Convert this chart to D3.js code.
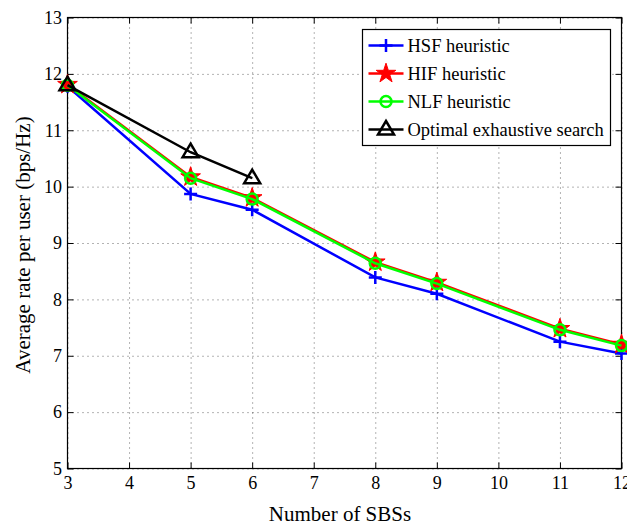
<!DOCTYPE html>
<html>
<head>
<meta charset="utf-8">
<script src="https://cdnjs.cloudflare.com/ajax/libs/d3/7.8.5/d3.min.js"></script>
<style>
  body { margin: 0; background: #fff; }
</style>
</head>
<body>
<div id="chart"></div>
<script>
// data
var sbs = [3, 5, 6, 8, 9, 11, 12];
var sbsOpt = [3, 5, 6];
var hsf = [11.78, 9.87, 9.59, 8.39, 8.10, 7.25, 7.04];
var hif = [11.81, 10.17, 9.80, 8.66, 8.30, 7.48, 7.20];
var nlf = [11.80, 10.15, 9.78, 8.64, 8.28, 7.46, 7.18];
var optimal = [11.80, 10.61, 10.15];
var xTicks = [3, 4, 5, 6, 7, 8, 9, 10, 11, 12];
var yTicks = [5, 6, 7, 8, 9, 10, 11, 12, 13];

var series = [
	{ name: "HSF heuristic", x: sbs, y: hsf, color: "#0000ff", marker: "plus" },
	{ name: "HIF heuristic", x: sbs, y: hif, color: "#ff0000", marker: "star" },
	{ name: "NLF heuristic", x: sbs, y: nlf, color: "#00ff00", marker: "circle" },
	{ name: "Optimal exhaustive search", x: sbsOpt, y: optimal, color: "#000000", marker: "triangle" }
];

var W = 627, H = 526;
var margin = { left: 67.5, right: 5.5, top: 17.5, bottom: 57.5 };
var w = W - margin.left - margin.right,
	h = H - margin.top - margin.bottom;
var font = "'Liberation Serif'";

var svg = d3.select("#chart").append("svg")
	.attr("width", W)
	.attr("height", H);

var g = svg.append("g")
	.attr("transform", "translate(" + margin.left + "," + margin.top + ")");

var x = d3.scaleLinear().domain([3, 12]).range([0, w]);
var y = d3.scaleLinear().domain([5, 13]).range([h, 0]);

// dotted grid
g.append("g")
	.attr("class", "grid")
	.attr("transform", "translate(0," + h + ")")
	.call(d3.axisBottom(x).tickValues(xTicks).tickSize(-h).tickFormat(""))
	.call(function (s) { s.select(".domain").remove(); });
g.append("g")
	.attr("class", "grid")
	.call(d3.axisLeft(y).tickValues(yTicks).tickSize(-w).tickFormat(""))
	.call(function (s) { s.select(".domain").remove(); });
g.selectAll(".grid line")
	.attr("stroke", "#000")
	.attr("stroke-width", 1)
	.attr("stroke-dasharray", "1,4")
	.attr("stroke-opacity", 0.6);

// axes with inward ticks (box on, like matlab)
var xAxis = g.append("g")
	.attr("transform", "translate(0," + h + ")")
	.call(d3.axisBottom(x).tickValues(xTicks).tickSizeInner(-6).tickSizeOuter(0).tickPadding(7.5));
var xTop = g.append("g")
	.call(d3.axisTop(x).tickValues(xTicks).tickSizeInner(-6).tickSizeOuter(0).tickFormat(""));
var yAxis = g.append("g")
	.call(d3.axisLeft(y).tickValues(yTicks).tickSizeInner(-6).tickSizeOuter(0).tickPadding(5.5));
var yRight = g.append("g")
	.attr("transform", "translate(" + w + ",0)")
	.call(d3.axisRight(y).tickValues(yTicks).tickSizeInner(-6).tickSizeOuter(0).tickFormat(""));

[xAxis, xTop, yAxis, yRight].forEach(function (a) {
	a.selectAll(".domain").remove();
	a.selectAll("line").attr("stroke", "#000");
	a.selectAll("text")
		.attr("fill", "#000")
		.style("font-family", font)
		.style("font-size", "18px");
});

g.append("rect")
	.attr("width", w)
	.attr("height", h)
	.attr("fill", "none")
	.attr("stroke", "#000")
	.attr("stroke-width", 1.2);

// markers
function drawMarker(sel, type, color) {
	if (type === "plus") {
		sel.append("path")
			.attr("d", "M-6.5,0H6.5M0,-6.5V6.5")
			.attr("stroke", color).attr("stroke-width", 2.5).attr("fill", "none");
	} else if (type === "star") {
		sel.append("path")
			.attr("d", d3.symbol().type(d3.symbolStar).size(120)())
			.attr("fill", color).attr("stroke", color).attr("stroke-width", 1);
	} else if (type === "circle") {
		sel.append("circle")
			.attr("r", 5.5)
			.attr("fill", "none").attr("stroke", color).attr("stroke-width", 2.5);
	} else if (type === "triangle") {
		sel.append("path")
			.attr("d", "M0,-8.5L8,5L-8,5Z")
			.attr("fill", "none").attr("stroke", color).attr("stroke-width", 2.5);
	}
}

var line = d3.line()
	.x(function (d) { return x(d[0]); })
	.y(function (d) { return y(d[1]); });

series.forEach(function (s) {
	var pts = s.x.map(function (v, i) { return [v, s.y[i]]; });
	g.append("path")
		.datum(pts)
		.attr("d", line)
		.attr("fill", "none")
		.attr("stroke", s.color)
		.attr("stroke-width", 2.5);
	g.selectAll(null)
		.data(pts)
		.enter()
		.append("g")
		.attr("transform", function (d) { return "translate(" + x(d[0]) + "," + y(d[1]) + ")"; })
		.each(function () { drawMarker(d3.select(this), s.marker, s.color); });
});

// legend
var leg = svg.append("g").attr("transform", "translate(362.5,29.5)");
leg.append("rect")
	.attr("width", 248)
	.attr("height", 116)
	.attr("fill", "#fff")
	.attr("stroke", "#000")
	.attr("stroke-width", 1.2);
series.forEach(function (s, i) {
	var row = leg.append("g").attr("transform", "translate(0," + (16 + i * 28) + ")");
	row.append("line")
		.attr("x1", 6).attr("x2", 41)
		.attr("stroke", s.color).attr("stroke-width", 2.5);
	var m = row.append("g").attr("transform", "translate(23.5,0)");
	drawMarker(m, s.marker, s.color);
	row.append("text")
		.attr("x", 45)
		.attr("y", 6.5)
		.style("font-family", font)
		.style("font-size", "18.5px")
		.text(s.name);
});

// axis titles
svg.append("text")
	.attr("x", 340)
	.attr("y", 521)
	.attr("text-anchor", "middle")
	.style("font-family", font)
	.style("font-size", "21px")
	.text("Number of SBSs");
svg.append("text")
	.attr("transform", "translate(30,245) rotate(-90)")
	.attr("text-anchor", "middle")
	.style("font-family", font)
	.style("font-size", "21px")
	.text("Average rate per user (bps/Hz)");
</script>
</body>
</html>
